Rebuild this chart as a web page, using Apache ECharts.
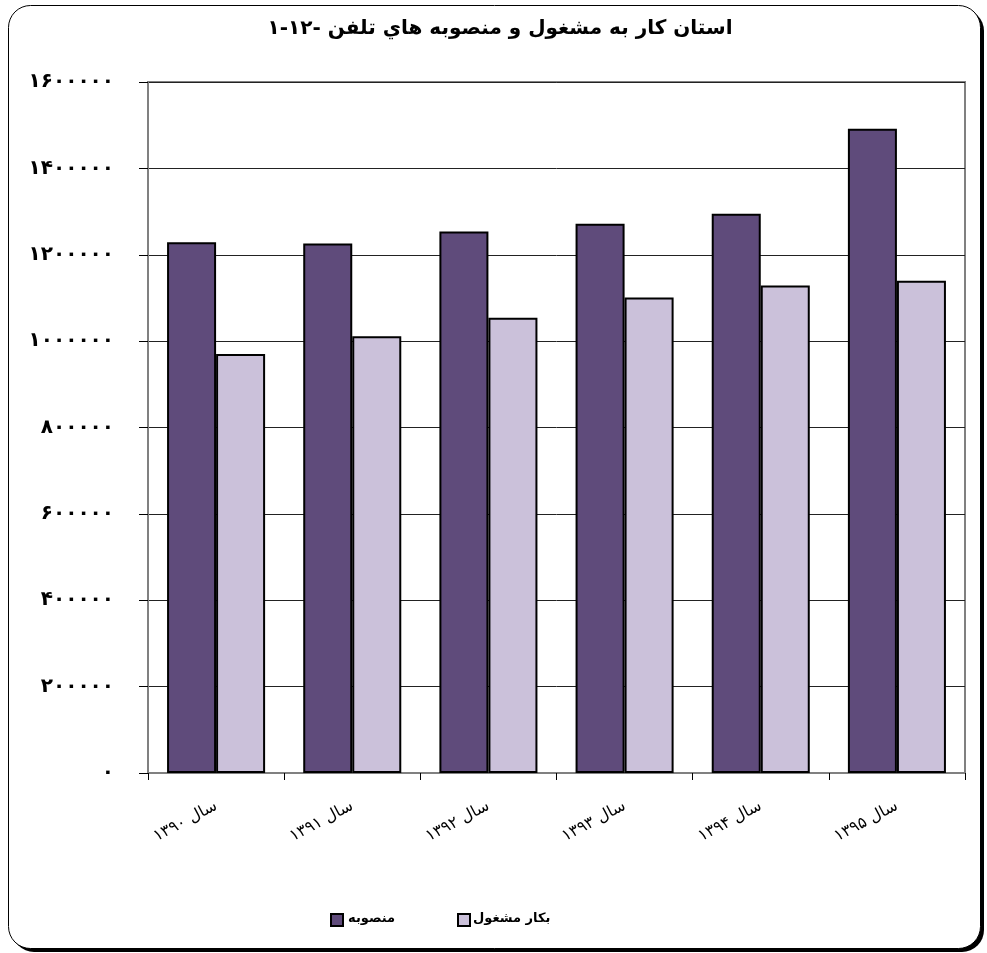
<!DOCTYPE html>
<html><head><meta charset="utf-8">
<script src="https://cdn.jsdelivr.net/npm/echarts@6/dist/echarts.min.js"></script>
<style>html,body{margin:0;padding:0;background:#fff;}#c{width:987px;height:953px;}</style>
</head><body><div id="c"></div>
<script>
const categories = ['سال ۱۳۹۰','سال ۱۳۹۱','سال ۱۳۹۲','سال ۱۳۹۳','سال ۱۳۹۴','سال ۱۳۹۵'];
const installed = [1229000, 1226000, 1254000, 1272000, 1295000, 1492000];
const working = [970000, 1011000, 1054000, 1101000, 1129000, 1140000];
const seriesNames = ['منصوبه', 'مشغول بکار'];
const titleText = '۱-۱۲- تلفن هاي منصوبه و مشغول به كار استان';

const faDigits = '۰۱۲۳۴۵۶۷۸۹';
const toFa = s => String(s).replace(/[0-9]/g, d => faDigits[d]);

const FONT = '"DejaVu Sans", sans-serif';
const TITLE_FONT = 'bold 20px "DejaVu Sans"';
const LEG_FONT = 'bold 13px "DejaVu Sans"';

// lay the words of a phrase out left to right (as the reference shows them),
// each word as its own text element
const mctx = document.createElement('canvas').getContext('2d');
function wordRow(text, font, x0, y, center) {
  mctx.font = font;
  const words = text.split(' ');
  const sp = mctx.measureText(' ').width;
  const ws = words.map(w => mctx.measureText(w).width);
  const total = ws.reduce((a, b) => a + b, 0) + sp * (words.length - 1);
  let x = center ? x0 - total / 2 : x0;
  return words.map((w, i) => {
    const el = {type: 'text', silent: true, x: x, y: y,
      style: {text: w, font: font, fill: '#000', align: 'left', verticalAlign: 'middle'}};
    x += ws[i] + sp;
    return el;
  });
}

const chart = echarts.init(document.getElementById('c'), null, {renderer: 'canvas'});
chart.setOption({
  animation: false,
  graphic: [
    {type: 'rect', z: -10, silent: true, shape: {x: 12, y: 9, width: 972, height: 943, r: 22}, style: {fill: '#000'}},
    {type: 'rect', z: -9, silent: true, shape: {x: 8.5, y: 5.5, width: 972, height: 943, r: 22}, style: {fill: '#fff', stroke: '#000', lineWidth: 1}},
    {type: 'group', children: wordRow(titleText, TITLE_FONT, 500, 29, true)},
    {type: 'group', children: wordRow(seriesNames[0], LEG_FONT, 348, 919, false)
       .concat(wordRow(seriesNames[1], LEG_FONT, 473, 919, false))}
  ],
  legend: {
    data: seriesNames,
    formatter: () => '',
    left: 325, top: 908,
    itemWidth: 12, itemHeight: 12, itemGap: 113,
    icon: 'rect',
    textStyle: {fontFamily: FONT, fontSize: 13, fontWeight: 'bold', color: '#000', padding: 0}
  },
  grid: {left: 148, right: 22, top: 82, bottom: 180, show: true, borderColor: '#808080', borderWidth: 2, containLabel: false},
  xAxis: {
    type: 'category', data: categories,
    axisLine: {lineStyle: {color: '#808080', width: 2}},
    axisTick: {show: true, alignWithLabel: false, length: 7, lineStyle: {color: '#000'}},
    axisLabel: {rotate: 28, margin: 32, fontFamily: FONT, fontSize: 16, color: '#000'}
  },
  yAxis: {
    type: 'value', min: 0, max: 1600000, interval: 200000,
    axisLine: {show: true, lineStyle: {color: '#808080', width: 2}},
    axisTick: {show: true, length: 9, lineStyle: {color: '#000'}},
    axisLabel: {margin: 34, formatter: v => toFa(v), fontFamily: FONT, fontSize: 20, fontWeight: 'bold', color: '#000'},
    splitLine: {lineStyle: {color: '#222', width: 1}}
  },
  series: [
    {name: seriesNames[0], type: 'bar', data: installed, barGap: '0%', barCategoryGap: '28%',
     itemStyle: {color: '#5F4B7B', borderColor: '#000', borderWidth: 2}},
    {name: seriesNames[1], type: 'bar', data: working, barGap: '0%', barCategoryGap: '28%',
     itemStyle: {color: '#CBC1DA', borderColor: '#000', borderWidth: 2}}
  ]
});
</script></body></html>
